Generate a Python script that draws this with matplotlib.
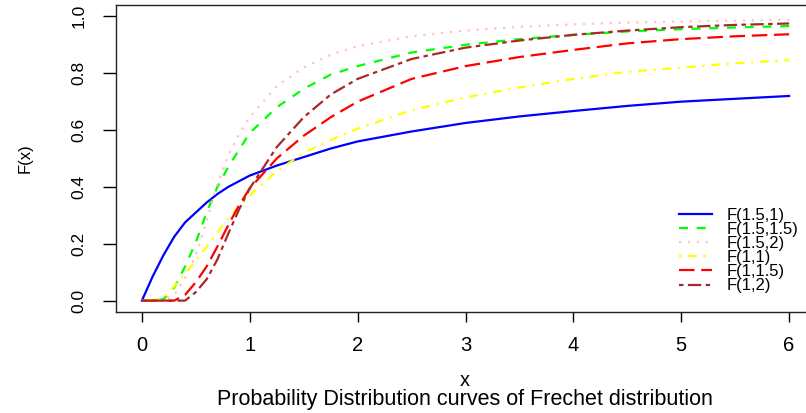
import matplotlib
matplotlib.use('Agg')
import matplotlib.pyplot as plt

plt.rcParams['font.family'] = ['Liberation Sans', 'DejaVu Sans']

x = [0, 0.1, 0.2, 0.3, 0.4, 0.5, 0.6, 0.7, 0.8, 0.9, 1.0, 1.25, 1.5, 1.75,
     2.0, 2.5, 3.0, 3.5, 4.0, 4.5, 5.0, 5.5, 6.0]

f_15_1 = [0, 0.085, 0.16, 0.225, 0.275, 0.31, 0.345, 0.375, 0.40, 0.42, 0.44,
          0.475, 0.505, 0.535, 0.56, 0.595, 0.625, 0.648, 0.667, 0.685, 0.70,
          0.71, 0.72]
f_15_15 = [0, 0, 0.005, 0.045, 0.12, 0.205, 0.31, 0.40, 0.47, 0.53, 0.59,
           0.68, 0.745, 0.795, 0.825, 0.873, 0.90, 0.92, 0.935, 0.947, 0.955,
           0.961, 0.966]
f_15_2 = [0, 0, 0, 0.02, 0.08, 0.16, 0.28, 0.41, 0.51, 0.585, 0.645,
          0.755, 0.82, 0.865, 0.895, 0.93, 0.95, 0.963, 0.972, 0.978, 0.982,
          0.985, 0.988]
f_1_1 = [0, 0, 0.01, 0.05, 0.095, 0.14, 0.19, 0.24, 0.29, 0.33, 0.37,
         0.455, 0.52, 0.565, 0.605, 0.67, 0.715, 0.75, 0.78, 0.805, 0.82,
         0.835, 0.846]
f_1_15 = [0, 0, 0, 0, 0.02, 0.065, 0.12, 0.19, 0.265, 0.335, 0.395,
          0.50, 0.58, 0.645, 0.70, 0.78, 0.825, 0.857, 0.882, 0.905, 0.92,
          0.93, 0.937]
f_1_2 = [0, 0, 0, 0, 0, 0.03, 0.075, 0.145, 0.235, 0.32, 0.395,
         0.54, 0.645, 0.725, 0.78, 0.85, 0.89, 0.915, 0.935, 0.95, 0.962,
         0.97, 0.975]

labels = ['F(1.5,1)', 'F(1.5,1.5)', 'F(1.5,2)', 'F(1,1)', 'F(1,1.5)', 'F(1,2)']
series = [f_15_1, f_15_15, f_15_2, f_1_1, f_1_15, f_1_2]
colors = ['#0000FF', '#00FF00', '#FFC0CB', '#FFFF00', '#FF0000', '#A52A2A']
styles = ['-', (0, (4, 4)), (0, (1, 3)), (0, (1, 3, 4, 3)), (0, (7, 3)),
          (0, (2, 2, 6, 2))]

xticks = [0, 1, 2, 3, 4, 5, 6]
yticks = [0.0, 0.2, 0.4, 0.6, 0.8, 1.0]

W, H = 806, 413
fig = plt.figure(figsize=(W / 100, H / 100), dpi=100)
ax = fig.add_axes([116 / W, (H - 312) / H, (815 - 116) / W, (312 - 5) / H])

for y, lab, c, ls in zip(series, labels, colors, styles):
    ax.plot(x, y, color=c, linestyle=ls, linewidth=1.6, label=lab)

ax.set_xlim(-0.24, 6.24)
ax.set_ylim(-0.04, 1.04)
ax.set_xticks(xticks)
ax.set_xticklabels([str(t) for t in xticks])
ax.set_yticks(yticks)
ax.set_yticklabels([f'{t:.1f}' for t in yticks], rotation=90, va='center')

for s in ax.spines.values():
    s.set_linewidth(1.0)
    s.set_color('#222222')
ax.tick_params(axis='x', length=7.2, width=1.0, pad=10, labelsize=14.5)
ax.tick_params(axis='y', length=9.4, width=1.0, pad=12, labelsize=12.5)

fig.text(25 / W, 1 - 158 / H, 'F(x)', rotation=90, ha='center', va='center',
         fontsize=12)
fig.text(465 / W, 1 - 380 / H, 'x', ha='center', va='center', fontsize=14.5)
fig.text(465 / W, 1 - 399 / H,
         'Probability Distribution curves of Frechet distribution',
         ha='center', va='center', fontsize=15.5)

leg = ax.legend(loc='center left', bbox_to_anchor=(679 / W, 1 - 250.5 / H),
                bbox_transform=fig.transFigure, frameon=False, fontsize=12,
                borderpad=0, borderaxespad=0, handlelength=2.0,
                handletextpad=0.85, labelspacing=-0.05)

fig.savefig('out.png', dpi=100)
